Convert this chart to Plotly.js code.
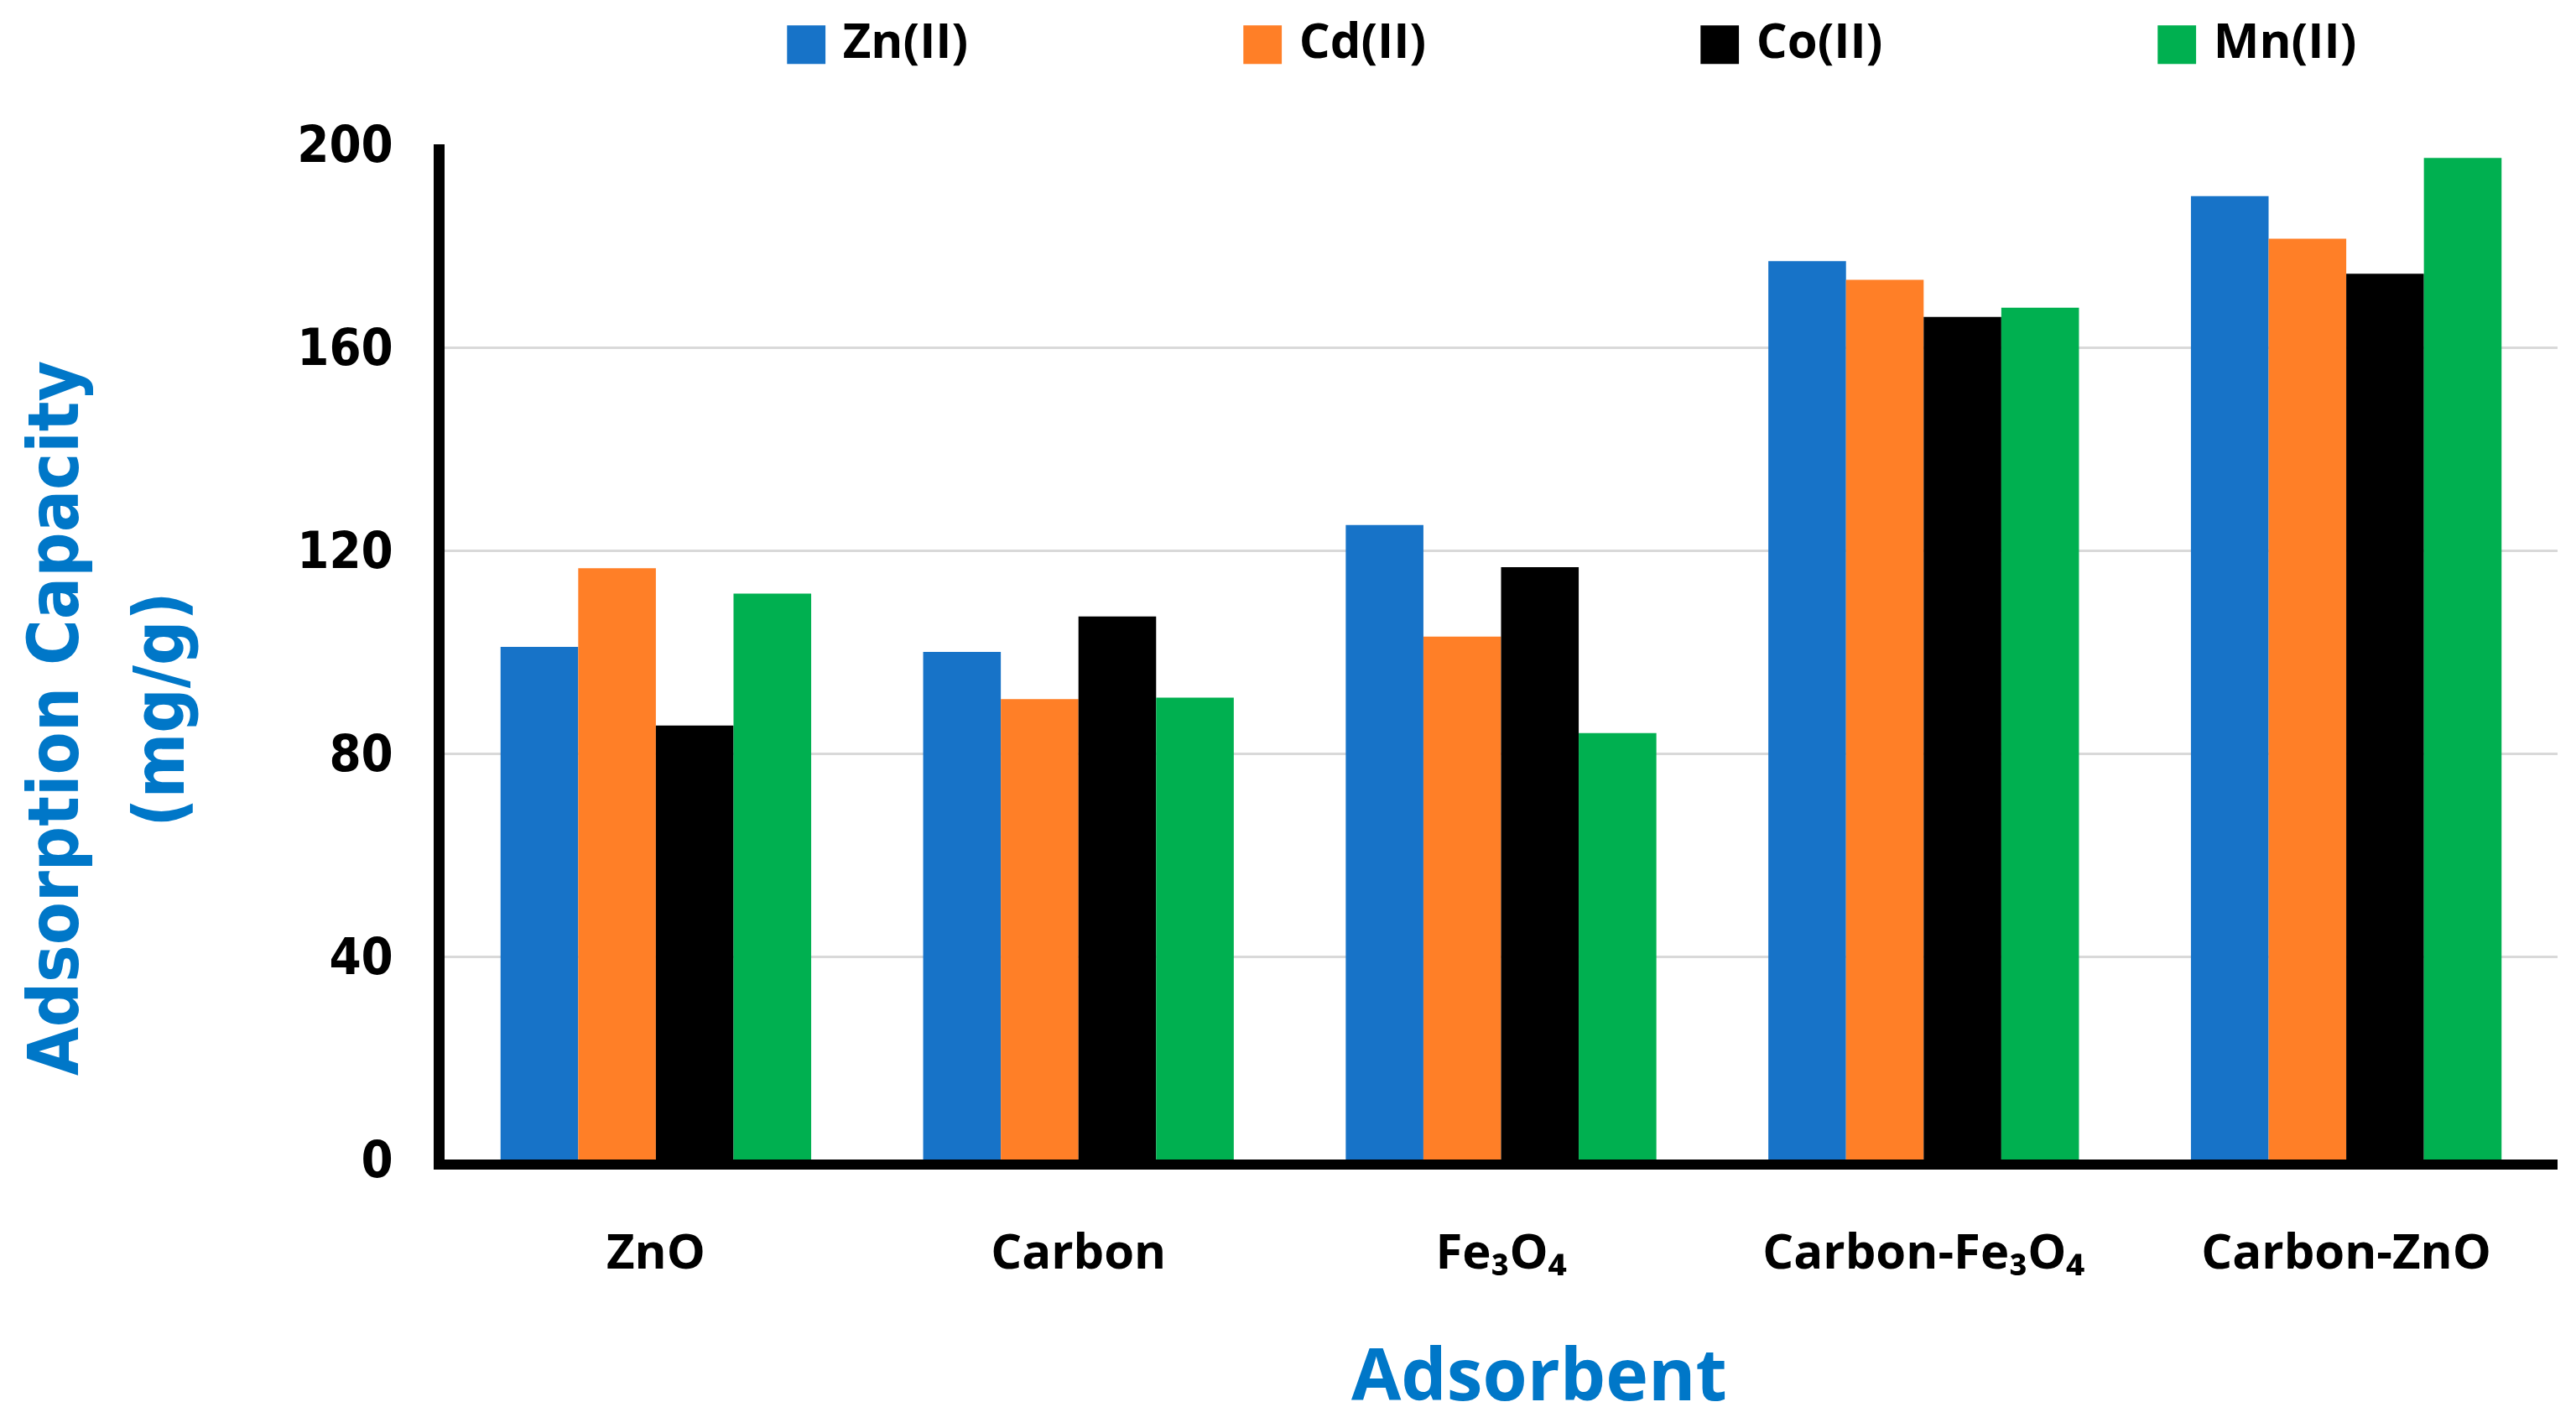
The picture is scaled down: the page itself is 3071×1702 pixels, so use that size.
<!DOCTYPE html>
<html>
<head>
<meta charset="utf-8">
<script src="https://cdn.plot.ly/plotly-3.0.1.min.js"></script>
<style>
  html, body { margin: 0; padding: 0; background: #ffffff; }
  #chart { width: 3071px; height: 1702px; }
</style>
</head>
<body>
<div id="chart"></div>
<script>
// ---- data ----
const categories = ["ZnO", "Carbon", "Fe₃O₄", "Carbon-Fe₃O₄", "Carbon-ZnO"];
const seriesNames = ["Zn(II)", "Cd(II)", "Co(II)", "Mn(II)"];
const znValues = [101.0, 100.0, 125.0, 177.0, 189.8];
const cdValues = [116.5, 90.7, 103.0, 173.3, 181.4];
const coValues = [85.5, 107.0, 116.7, 166.0, 174.5];
const mnValues = [111.5, 91.0, 84.0, 167.8, 197.3];
const yTickValues = [0, 40, 80, 120, 160, 200];
const xTitle = "Adsorbent";
const yTitleLines = ["Adsorption Capacity", "(mg/g)"];

const seriesColors = ["#1773C8", "#FF7F27", "#000000", "#00B050"];
const seriesValues = [znValues, cdValues, coValues, mnValues];

const traces = seriesNames.map((name, i) => ({
  type: "bar",
  name: name,
  x: categories,
  y: seriesValues[i],
  marker: { color: seriesColors[i], line: { width: 0 } },
  showlegend: false,
  hoverinfo: "x+y+name"
}));

const titleBlue = "#0077C8";

// legend entries (square key + name), laid out in a row above the plot
const legendX = [0.1592, 0.3750, 0.5915, 0.8078];
const legendAnnotations = seriesNames.map((name, i) => ({
  xref: "paper", yref: "paper",
  x: legendX[i], y: 1.1035,
  xanchor: "left", yanchor: "middle",
  showarrow: false,
  text: '<span style="color:' + seriesColors[i] + ';font-family:\'DejaVu Sans\';font-size:60px">■</span> ' + name,
  font: { family: "Open Sans", size: 58, color: "#000000", weight: "bold" }
}));

const titleAnnotations = [
  {
    xref: "paper", yref: "paper",
    x: -0.185, y: 0.4347,
    xanchor: "center", yanchor: "middle",
    textangle: -90, showarrow: false,
    text: yTitleLines[0],
    font: { family: "DejaVu Sans Condensed", size: 83, color: titleBlue, weight: "bold" }
  },
  {
    xref: "paper", yref: "paper",
    x: -0.1347, y: 0.443,
    xanchor: "center", yanchor: "middle",
    textangle: -90, showarrow: false,
    text: yTitleLines[1],
    font: { family: "DejaVu Sans Condensed", size: 83, color: titleBlue, weight: "bold" }
  },
  {
    xref: "paper", yref: "paper",
    x: 0.518, y: -0.2099,
    xanchor: "center", yanchor: "middle",
    showarrow: false,
    text: xTitle,
    font: { family: "Open Sans", size: 86, color: titleBlue, weight: "bold" }
  }
];

const layout = {
  width: 3071,
  height: 1702,
  paper_bgcolor: "#ffffff",
  plot_bgcolor: "#ffffff",
  margin: { l: 530, r: 22, t: 172, b: 320, pad: 0 },
  barmode: "group",
  bargap: 0.265,
  bargroupgap: 0,
  showlegend: false,
  annotations: legendAnnotations.concat(titleAnnotations),
  xaxis: {
    type: "category",
    range: [-0.5, 4.5],
    showline: true,
    linecolor: "#000000",
    linewidth: 12,
    ticks: "",
    showgrid: false,
    zeroline: false,
    automargin: false,
    ticklabelstandoff: 48,
    tickfont: { family: "Open Sans", size: 58, color: "#000000", weight: "bold" }
  },
  yaxis: {
    range: [0, 200],
    tickvals: yTickValues,
    ticktext: yTickValues.map(String),
    showline: true,
    linecolor: "#000000",
    linewidth: 13,
    ticks: "",
    showgrid: true,
    gridcolor: "#D9D9D9",
    gridwidth: 3,
    zeroline: false,
    automargin: false,
    ticklabelstandoff: 36,
    tickfont: { family: "DejaVu Sans Condensed", size: 61, color: "#000000", weight: "bold" }
  }
};

Plotly.newPlot("chart", traces, layout, { displayModeBar: false, staticPlot: true });
</script>
</body>
</html>
